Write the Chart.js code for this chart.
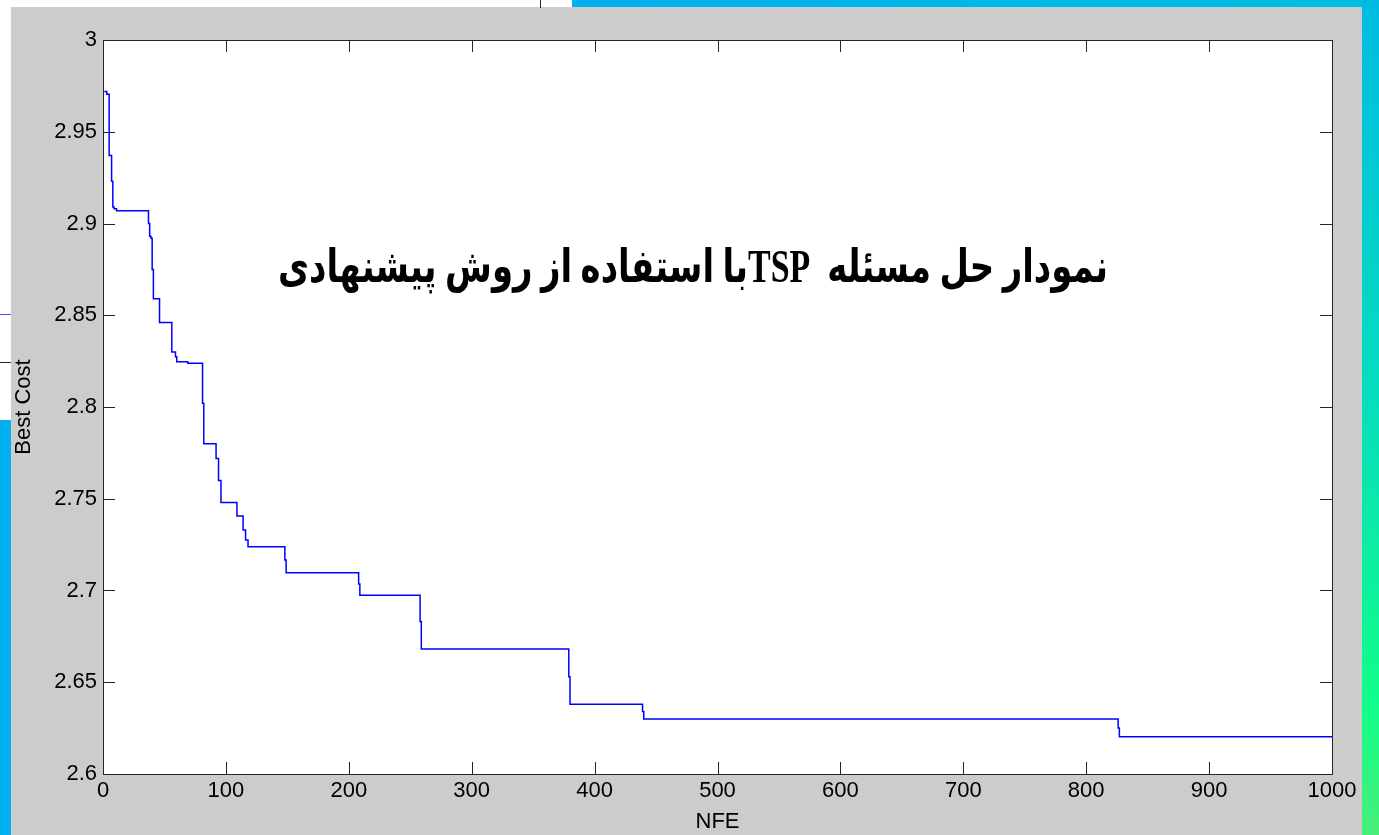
<!DOCTYPE html>
<html>
<head>
<meta charset="utf-8">
<script src="https://cdn.jsdelivr.net/npm/chart.js@4.4.1/dist/chart.umd.min.js"></script>
<style>
  html, body { margin: 0; padding: 0; overflow: hidden; background: #cccccc; }
  canvas { display: block; }
</style>
</head>
<body>
<canvas id="c" width="1379" height="835"></canvas>
<script>
// Best cost found so far, recorded at the evaluations where it improved
const nfe = [1, 3, 5, 7, 8, 9, 11, 37, 38, 39, 40, 41, 46, 56, 59, 60, 69, 81, 82,
             92, 94, 96, 109, 114, 116, 118, 148, 149, 208, 209, 258, 259, 379, 380,
             439, 440, 826, 827, 1000];
const bestCost = [2.972, 2.9705, 2.937, 2.923, 2.909, 2.908, 2.907, 2.900, 2.893, 2.892,
                  2.875, 2.859, 2.846, 2.830, 2.8274, 2.8247, 2.8238, 2.802, 2.780,
                  2.772, 2.760, 2.748, 2.7406, 2.733, 2.7275, 2.7239, 2.7166, 2.7097,
                  2.7035, 2.6974, 2.6831, 2.6681, 2.653, 2.638, 2.634, 2.630, 2.6251,
                  2.6203, 2.6203];

const xTicks = [0, 100, 200, 300, 400, 500, 600, 700, 800, 900, 1000];
const yTicks = [2.6, 2.65, 2.7, 2.75, 2.8, 2.85, 2.9, 2.95, 3];

const chartTitle = 'نمودار حل مسئله  TSPبا استفاده از روش پیشنهادی';
const xLabel = 'NFE';
const yLabel = 'Best Cost';

const points = nfe.map((x, i) => ({ x: x, y: bestCost[i] }));

const TICK_LEN = 12;
const AXIS_COLOR = '#262626';

// Window decoration, white plot box, inward MATLAB-style ticks and the caption
const framePlugin = {
  id: 'frame',
  beforeDraw(chart) {
    const ctx = chart.ctx;
    const W = chart.width, H = chart.height;
    const a = chart.chartArea;
    ctx.save();
    ctx.fillStyle = '#cccccc';
    ctx.fillRect(0, 0, W, H);

    // top strip: white on the left, blue on the right
    ctx.fillStyle = '#ffffff';
    ctx.fillRect(0, 0, 572, 7);
    const gTop = ctx.createLinearGradient(572, 0, W, 0);
    gTop.addColorStop(0, '#00b0f0');
    gTop.addColorStop(1, '#00bee0');
    ctx.fillStyle = gTop;
    ctx.fillRect(572, 0, W - 572, 7);
    ctx.fillStyle = '#222';
    ctx.fillRect(540, 0, 1, 8);

    // left strip
    ctx.fillStyle = '#ffffff';
    ctx.fillRect(0, 7, 11, 413);
    ctx.fillStyle = '#00b0f0';
    ctx.fillRect(0, 420, 11, H - 420);
    ctx.fillStyle = '#4a4aff';
    ctx.fillRect(0, 314, 11, 1);
    ctx.fillStyle = '#222';
    ctx.fillRect(0, 362, 11, 1);

    // right strip
    const gR = ctx.createLinearGradient(0, 0, 0, H);
    gR.addColorStop(0, '#00bbe2');
    gR.addColorStop(0.45, '#04dcc0');
    gR.addColorStop(0.85, '#12fe88');
    gR.addColorStop(1, '#48ee78');
    ctx.fillStyle = gR;
    ctx.fillRect(1362, 0, W - 1362, H);

    // plot box
    ctx.fillStyle = '#ffffff';
    ctx.fillRect(a.left, a.top, a.right - a.left, a.bottom - a.top);
    ctx.restore();
  },
  afterDraw(chart) {
    const ctx = chart.ctx;
    const a = chart.chartArea;
    const xs = chart.scales.x, ys = chart.scales.y;
    ctx.save();
    ctx.strokeStyle = AXIS_COLOR;
    ctx.lineWidth = 1;
    ctx.beginPath();
    xTicks.forEach(v => {
      const px = Math.round(xs.getPixelForValue(v)) + 0.5;
      ctx.moveTo(px, a.bottom); ctx.lineTo(px, a.bottom - TICK_LEN);
      ctx.moveTo(px, a.top); ctx.lineTo(px, a.top + TICK_LEN);
    });
    yTicks.forEach(v => {
      const py = Math.round(ys.getPixelForValue(v)) + 0.5;
      ctx.moveTo(a.left, py); ctx.lineTo(a.left + TICK_LEN, py);
      ctx.moveTo(a.right, py); ctx.lineTo(a.right - TICK_LEN, py);
    });
    ctx.stroke();
    ctx.strokeRect(Math.round(a.left) + 0.5, Math.round(a.top) + 0.5,
                   Math.round(a.right - a.left), Math.round(a.bottom - a.top));

    // caption inside the plot
    ctx.font = 'bold 46px "Liberation Serif", "DejaVu Sans"';
    ctx.direction = 'rtl';
    ctx.textAlign = 'center';
    ctx.textBaseline = 'middle';
    ctx.fillStyle = '#000000';
    const w = ctx.measureText(chartTitle).width;
    ctx.translate(693, 270);
    ctx.scale(830 / w, 1);
    ctx.fillText(chartTitle, 0, 0);
    ctx.restore();
  }
};

const tickFont = { family: '"Liberation Sans", Arial, sans-serif', size: 22 };

new Chart(document.getElementById('c'), {
  type: 'line',
  data: {
    datasets: [{
      data: points,
      stepped: true,
      borderColor: '#0000ff',
      borderWidth: 1.5,
      pointRadius: 0,
      fill: false
    }]
  },
  options: {
    responsive: false,
    animation: false,
    devicePixelRatio: 1,
    layout: { padding: { top: 40, right: 47, left: 0, bottom: 0 } },
    plugins: { legend: { display: false }, tooltip: { enabled: false } },
    scales: {
      x: {
        type: 'linear',
        min: 0, max: 1000,
        afterBuildTicks: s => { s.ticks = xTicks.map(v => ({ value: v })); },
        afterFit: s => { s.height = 61; },
        grid: { display: false, drawTicks: false },
        border: { display: false },
        ticks: { font: tickFont, color: '#000', padding: 4, maxRotation: 0, autoSkip: false,
                 callback: v => String(v) },
        title: { display: true, text: xLabel, color: '#000',
                 font: { family: '"Liberation Sans", Arial, sans-serif', size: 22 },
                 padding: { top: 3, bottom: 0 } }
      },
      y: {
        type: 'linear',
        min: 2.6, max: 3,
        afterBuildTicks: s => { s.ticks = yTicks.map(v => ({ value: v })); },
        afterFit: s => { s.width = 103; },
        grid: { display: false, drawTicks: false },
        border: { display: false },
        ticks: { font: tickFont, color: '#000', padding: 6, autoSkip: false,
                 callback: v => String(v) },
        title: { display: true, text: yLabel, color: '#000',
                 font: { family: '"Liberation Sans", Arial, sans-serif', size: 22 },
                 padding: { top: 11, bottom: 0 } }
      }
    }
  },
  plugins: [framePlugin]
});
</script>
</body>
</html>
